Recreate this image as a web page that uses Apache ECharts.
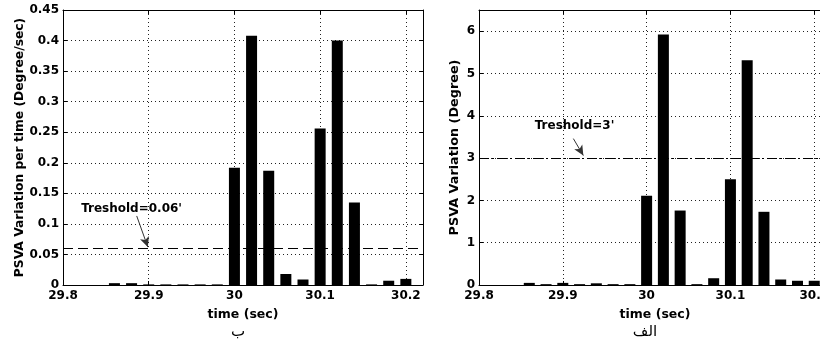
<!DOCTYPE html>
<html>
<head>
<meta charset="utf-8">
<script src="https://cdn.jsdelivr.net/npm/echarts@6/dist/echarts.min.js"></script>
<style>
html,body{margin:0;padding:0;background:#fff;}
#chart{width:820px;height:341px;}
</style>
</head>
<body>
<div id="chart"></div>
<script>
// ---- data ----
var times = [29.86, 29.88, 29.90, 29.92, 29.94, 29.96, 29.98, 30.00, 30.02, 30.04, 30.06, 30.08, 30.10, 30.12, 30.14, 30.16, 30.18, 30.20];
var rateValues = [0.003, 0.003, 0.001, 0.001, 0.001, 0.001, 0.001, 0.192, 0.408, 0.187, 0.018, 0.009, 0.256, 0.400, 0.135, 0.001, 0.007, 0.010];
var variationValues = [0.05, 0.02, 0.05, 0.02, 0.04, 0.02, 0.02, 2.11, 5.92, 1.76, 0.02, 0.16, 2.50, 5.31, 1.73, 0.13, 0.10, 0.10];
var xTickLabels = ['29.8', '29.9', '30', '30.1', '30.2'];
var rateTickLabels = ['0', '0.05', '0.1', '0.15', '0.2', '0.25', '0.3', '0.35', '0.4', '0.45'];
var variationTickLabels = ['0', '1', '2', '3', '4', '5', '6'];
var rateThreshold = 0.06;
var variationThreshold = 3;
var rateNote = {text: "Treshold=0.06'", at: [29.880, 0.124], arrowFrom: [29.886, 0.113], arrowTo: [29.899, 0.062]};
var variationNote = {text: "Treshold=3'", at: [29.914, 3.76], arrowFrom: [29.9126, 3.46], arrowTo: [29.9245, 3.06]};

var FONT = 'DejaVu Sans';
function pairs(xs, ys){ return xs.map(function(x,i){ return [x, ys[i]]; }); }
function pick(labels){
  return function(v){
    for (var i=0;i<labels.length;i++){ if (Math.abs(parseFloat(labels[i]) - v) < 1e-6) return labels[i]; }
    return '';
  };
}
var gridLine = {show:true, lineStyle:{color:'#222', width:1, type:[1,3]}};
function xAxes(gi, name){
  return [{
    type:'value', gridIndex:gi, min:29.8, max:30.22, interval:0.1, position:'bottom',
    axisLine:{show:true, onZero:false, lineStyle:{color:'#000', width:1}},
    axisTick:{show:true, inside:true, length:4, lineStyle:{color:'#000'}},
    axisLabel:{show:true, color:'#000', fontFamily:FONT, fontWeight:'bold', fontSize:12, margin:5, formatter:pick(xTickLabels), showMaxLabel:true, showMinLabel:true},
    splitLine:gridLine,
    name:name, nameLocation:'middle', nameGap:23,
    nameTextStyle:{color:'#000', fontFamily:FONT, fontWeight:'bold', fontSize:12.5}
  },{
    type:'value', gridIndex:gi, min:29.8, max:30.22, interval:0.1, position:'top',
    axisLine:{show:true, onZero:false, lineStyle:{color:'#000', width:1}},
    axisTick:{show:true, inside:true, length:4, lineStyle:{color:'#000'}},
    axisLabel:{show:false}, splitLine:{show:false}
  }];
}
function yAxes(gi, max, interval, labels, name, gap, nameSize){
  return [{
    type:'value', gridIndex:gi, min:0, max:max, interval:interval, position:'left',
    axisLine:{show:true, onZero:false, lineStyle:{color:'#000', width:1}},
    axisTick:{show:true, inside:true, length:4, lineStyle:{color:'#000'}},
    axisLabel:{show:true, color:'#000', fontFamily:FONT, fontWeight:'bold', fontSize:12, margin:4, formatter:pick(labels)},
    splitLine:gridLine,
    name:name, nameLocation:'middle', nameGap:gap, nameRotate:90,
    nameTextStyle:{color:'#000', fontFamily:FONT, fontWeight:'bold', fontSize:nameSize}
  },{
    type:'value', gridIndex:gi, min:0, max:max, interval:interval, position:'right',
    axisLine:{show:true, onZero:false, lineStyle:{color:'#000', width:1}},
    axisTick:{show:true, inside:true, length:4, lineStyle:{color:'#000'}},
    axisLabel:{show:false}, splitLine:{show:false}
  }];
}
function barSeries(xi, yi, values, threshold, dash, note){
  return {
    type:'bar', xAxisIndex:xi, yAxisIndex:yi, data:pairs(times, values),
    barWidth:11, itemStyle:{color:'#000'}, silent:true, animation:false,
    markLine:{
      silent:true, animation:false, symbol:['none','none'], label:{show:false},
      data:[
        {yAxis:threshold, lineStyle:{color:'#000', width:1, type:dash}},
        [{coord:note.arrowFrom, symbol:'none', lineStyle:{color:'#333', width:1, type:'solid'}},
         {coord:note.arrowTo, symbol:'arrow', symbolSize:[7,10]}]
      ]
    },
    markPoint:{
      silent:true, animation:false,
      data:[{coord:note.at, symbol:'circle', symbolSize:1, itemStyle:{color:'rgba(0,0,0,0)'},
        label:{show:true, position:'inside', formatter:note.text, color:'#000', fontFamily:FONT, fontWeight:'bold', fontSize:12}}]
    }
  };
}
var chart = echarts.init(document.getElementById('chart'), null, {renderer:'canvas'});
chart.setOption({
  backgroundColor:'#fff',
  animation:false,
  grid:[
    {left:63, top:10, width:360, height:275, show:false, containLabel:false, outerBoundsMode:'none'},
    {left:479, top:10, width:352, height:275, show:false, containLabel:false, outerBoundsMode:'none'}
  ],
  xAxis: xAxes(0, 'time (sec)').concat(xAxes(1, 'time (sec)')),
  yAxis: yAxes(0, 0.45, 0.05, rateTickLabels, 'PSVA Variation per time (Degree/sec)', 37, 12.3)
    .concat(yAxes(1, 6.5, 1, variationTickLabels, 'PSVA Variation (Degree)', 18, 12.8)),
  series:[
    barSeries(0, 0, rateValues, rateThreshold, [10,5], rateNote),
    barSeries(2, 2, variationValues, variationThreshold, [10,3,2,3], variationNote)
  ],
  graphic:[
    {type:'text', x:238, y:332, style:{text:'ب', fontFamily:FONT, fontSize:15, fill:'#000', align:'center', verticalAlign:'middle'}},
    {type:'text', x:645, y:332, style:{text:'الف', fontFamily:FONT, fontSize:15, fill:'#000', align:'center', verticalAlign:'middle'}}
  ]
});
</script>
</body>
</html>
